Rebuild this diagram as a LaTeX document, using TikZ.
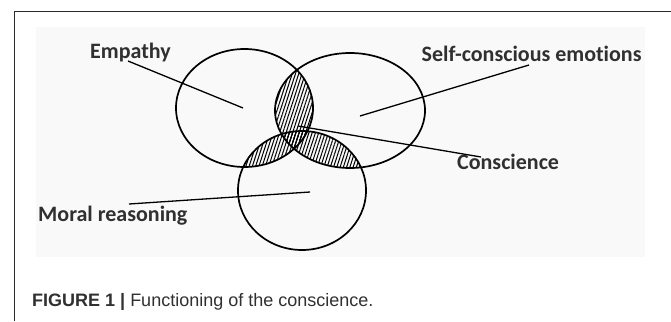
\documentclass[tikz,border=0pt]{standalone}
\usepackage{fontspec}
\setmainfont{Carlito}[Ligatures=NoCommon]
\newfontfamily\capfont{Liberation Sans}
\usetikzlibrary{patterns.meta}

\definecolor{inkgray}{HTML}{303030}
\definecolor{paper}{HTML}{F9F9F9}
\definecolor{rulegray}{HTML}{2A2A2A}

\begin{document}
\begin{tikzpicture}[x=1pt, y=-1pt,
    ring/.style={line width=1.7pt},
    leader/.style={line width=1.3pt},
    hatch/.style={pattern={Lines[angle=72, distance=3.1pt, line width=1pt]}},
    lbl/.style={anchor=base west, inner sep=0pt, text=inkgray,
        font=\bfseries\fontsize{22}{24}\selectfont},
    empR/.style={x radius=68.5pt, y radius=59pt},
    selfR/.style={x radius=75pt, y radius=57.5pt},
    moralR/.style={x radius=64pt, y radius=59.5pt}]
    \useasboundingbox (0,0) rectangle (671,321);
    \fill[paper] (36,27) rectangle (645,257);
    \draw[rulegray, line width=0.8pt] (14,321) |- (671,11);

    % centres of the three sets
    \coordinate (emp) at (244.5,108);
    \coordinate (self) at (350,110.5);
    \coordinate (moral) at (302,190.5);

    % hatched overlaps
    \begin{scope}
        \clip (emp) ellipse [empR];
        \fill[hatch] (self) ellipse [selfR];
        \fill[hatch] (moral) ellipse [moralR];
    \end{scope}
    \begin{scope}
        \clip (self) ellipse [selfR];
        \fill[hatch] (moral) ellipse [moralR];
    \end{scope}

    \draw[ring] (emp) ellipse [empR];
    \draw[ring] (self) ellipse [selfR];
    \draw[ring] (moral) ellipse [moralR];

    % labels
    \node[lbl] (empathy) at (90,59) {Empathy};
    \node[lbl] (selfcon) at (421.5,61.5) {Self-conscious emotions};
    \node[lbl] (consc) at (457,169) {Conscience};
    \node[lbl] (moralr) at (38,221) {Moral reasoning};

    % leader lines
    \coordinate (empTail) at (128,61);
    \coordinate (empTip) at (243,108);
    \coordinate (selfTail) at (529,65);
    \coordinate (selfTip) at (360,116);
    \coordinate (conTail) at (481,157);
    \coordinate (conTip) at (298,126);
    \coordinate (morTail) at (129,204);
    \coordinate (morTip) at (310,192);
    \foreach \a/\b in {empTail/empTip, selfTail/selfTip, conTail/conTip, morTail/morTip}
        \draw[leader] (\a) -- (\b);

    \node[anchor=base west, inner sep=0pt, text=inkgray,
        font=\capfont\fontsize{18}{20}\selectfont] (caption) at (32,306.7)
        {\textbf{FIGURE 1 |} Functioning of the conscience.};
\end{tikzpicture}
\end{document}
